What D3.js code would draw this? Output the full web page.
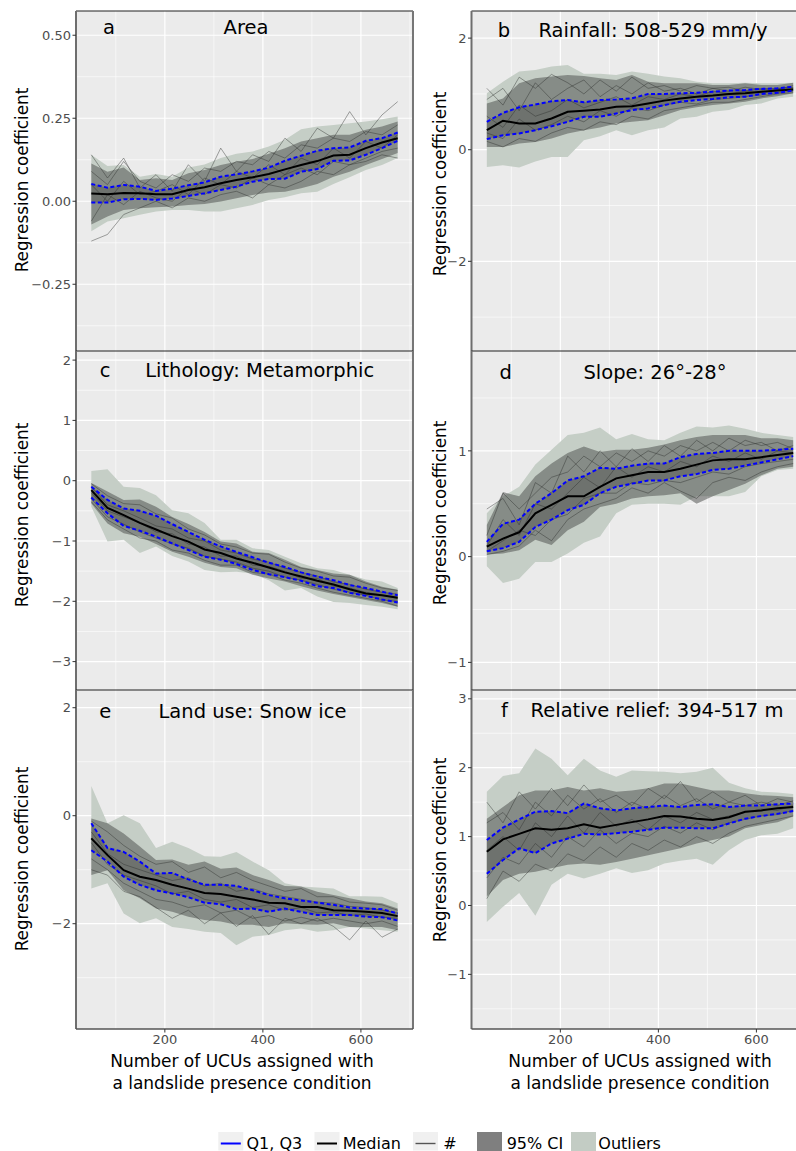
<!DOCTYPE html>
<html>
<head>
<meta charset="utf-8">
<script src="https://cdn.jsdelivr.net/npm/d3@7"></script>
<style>
  body { margin: 0; background: #fff; }
  svg { display: block; }
  text { font-family: "DejaVu Sans", sans-serif; }
</style>
</head>
<body>
<svg id="chart" width="796" height="1151"></svg>
<script>
// Number of UCUs assigned with a landslide presence condition (shared x values)
const xValues = [50, 83, 116, 149, 182, 215, 248, 281, 314, 346, 379, 412, 445, 478, 511, 544, 577, 610, 643, 675];
const xMajorTicks = [200, 400, 600];
const xMinorTicks = [100, 300, 500, 700];

// a — Area
const aMedian = [0.023, 0.021, 0.025, 0.024, 0.021, 0.021, 0.034, 0.042, 0.054, 0.064, 0.072, 0.082, 0.096, 0.109, 0.121, 0.138, 0.140, 0.160, 0.177, 0.190];
const aQ3 = [0.052, 0.041, 0.049, 0.044, 0.031, 0.038, 0.048, 0.057, 0.074, 0.081, 0.090, 0.101, 0.122, 0.137, 0.152, 0.160, 0.162, 0.182, 0.190, 0.207];
const aQ1 = [-0.004, -0.004, 0.006, 0.007, 0.004, 0.008, 0.016, 0.024, 0.034, 0.044, 0.059, 0.067, 0.068, 0.089, 0.097, 0.122, 0.123, 0.140, 0.160, 0.182];
const aCiHi = [0.114, 0.089, 0.102, 0.064, 0.069, 0.064, 0.084, 0.094, 0.109, 0.119, 0.127, 0.143, 0.160, 0.180, 0.190, 0.200, 0.200, 0.215, 0.225, 0.240];
const aCiLo = [-0.070, -0.046, -0.026, -0.021, -0.018, -0.016, -0.011, -0.008, -0.001, 0.009, 0.019, 0.026, 0.029, 0.039, 0.052, 0.074, 0.089, 0.109, 0.127, 0.145];
const aOutHi = [0.140, 0.106, 0.109, 0.074, 0.082, 0.074, 0.102, 0.111, 0.130, 0.143, 0.150, 0.165, 0.185, 0.217, 0.225, 0.230, 0.235, 0.240, 0.247, 0.255];
const aOutLo = [-0.090, -0.061, -0.051, -0.041, -0.031, -0.026, -0.026, -0.031, -0.031, -0.021, -0.011, 0.004, 0.012, 0.024, 0.029, 0.052, 0.072, 0.094, 0.109, 0.130];
const aRuns = [
  [0.14, 0.07, 0.13, 0.04, 0.08, 0.03, 0.11, 0.06, 0.16, 0.09, 0.14, 0.12, 0.19, 0.15, 0.22, 0.19, 0.27, 0.20, 0.26, 0.30],
  [-0.12, -0.10, -0.04, -0.02, 0.00, -0.02, 0.01, 0.00, 0.02, 0.03, 0.01, 0.05, 0.04, 0.06, 0.09, 0.08, 0.11, 0.12, 0.14, 0.13],
  [0.05, 0.00, 0.06, 0.02, 0.03, 0.05, 0.02, 0.07, 0.05, 0.09, 0.07, 0.11, 0.08, 0.13, 0.11, 0.16, 0.13, 0.18, 0.16, 0.20],
  [0.09, 0.05, 0.12, 0.06, 0.04, 0.08, 0.06, 0.10, 0.09, 0.12, 0.11, 0.15, 0.13, 0.17, 0.16, 0.19, 0.18, 0.21, 0.20, 0.23],
  [-0.06, 0.02, -0.01, 0.03, 0.01, 0.00, 0.04, 0.02, 0.05, 0.04, 0.07, 0.05, 0.08, 0.10, 0.08, 0.12, 0.11, 0.13, 0.15, 0.16]
];
const aTicks = [-0.25, 0, 0.25, 0.5];
const aMinor = [-0.375, -0.125, 0.125, 0.375];

// b — Rainfall: 508-529 mm/y
const bMedian = [0.35, 0.52, 0.47, 0.47, 0.56, 0.68, 0.70, 0.72, 0.77, 0.78, 0.83, 0.88, 0.92, 0.95, 0.97, 1.00, 1.01, 1.04, 1.06, 1.08];
const bQ3 = [0.50, 0.66, 0.76, 0.81, 0.87, 0.89, 0.85, 0.89, 0.90, 0.92, 1.00, 1.00, 1.01, 1.02, 1.04, 1.06, 1.07, 1.09, 1.10, 1.13];
const bQ1 = [0.19, 0.26, 0.29, 0.35, 0.42, 0.50, 0.59, 0.59, 0.65, 0.71, 0.74, 0.80, 0.86, 0.89, 0.91, 0.94, 0.95, 1.00, 1.02, 1.06];
const bCiHi = [0.83, 0.92, 1.19, 1.28, 1.31, 1.34, 1.32, 1.28, 1.25, 1.34, 1.22, 1.19, 1.19, 1.19, 1.16, 1.16, 1.19, 1.16, 1.16, 1.20];
const bCiLo = [0.05, 0.05, 0.11, 0.14, 0.20, 0.29, 0.35, 0.40, 0.47, 0.50, 0.53, 0.62, 0.71, 0.76, 0.80, 0.83, 0.86, 0.92, 0.96, 1.01];
const bOutHi = [1.01, 1.22, 1.40, 1.43, 1.49, 1.52, 1.36, 1.36, 1.34, 1.40, 1.36, 1.31, 1.28, 1.22, 1.19, 1.19, 1.20, 1.19, 1.19, 1.20];
const bOutLo = [-0.31, -0.28, -0.32, -0.21, -0.13, -0.13, 0.17, 0.24, 0.35, 0.26, 0.35, 0.40, 0.56, 0.59, 0.68, 0.71, 0.80, 0.83, 0.92, 0.95];
const bRuns = [
  [1.10, 0.80, 1.30, 1.10, 1.35, 1.20, 1.00, 1.25, 1.05, 1.30, 1.10, 1.15, 1.05, 1.15, 1.10, 1.12, 1.05, 1.10, 1.08, 1.15],
  [0.15, 0.05, 0.20, 0.15, 0.30, 0.40, 0.35, 0.50, 0.45, 0.60, 0.55, 0.70, 0.75, 0.80, 0.85, 0.85, 0.90, 0.95, 1.00, 1.02],
  [0.60, 0.40, 0.80, 0.60, 0.70, 0.90, 0.75, 0.85, 0.95, 0.80, 0.95, 0.90, 1.00, 0.95, 1.05, 1.00, 1.05, 1.02, 1.08, 1.10],
  [0.90, 1.10, 0.70, 1.20, 0.90, 1.10, 1.25, 0.95, 1.15, 1.00, 1.20, 1.05, 1.10, 1.00, 1.10, 1.05, 1.12, 1.08, 1.10, 1.12],
  [0.30, 0.20, 0.55, 0.35, 0.45, 0.60, 0.50, 0.70, 0.60, 0.75, 0.70, 0.80, 0.85, 0.82, 0.90, 0.92, 0.95, 0.98, 1.02, 1.05]
];
const bTicks = [-2, 0, 2];
const bMinor = [-3, -1, 1];

// c — Lithology: Metamorphic
const cMedian = [-0.155, -0.45, -0.57, -0.70, -0.81, -0.92, -1.01, -1.14, -1.20, -1.29, -1.36, -1.44, -1.52, -1.59, -1.66, -1.72, -1.80, -1.87, -1.90, -1.94];
const cQ3 = [-0.10, -0.32, -0.46, -0.50, -0.58, -0.72, -0.85, -0.98, -1.09, -1.18, -1.27, -1.36, -1.43, -1.52, -1.59, -1.65, -1.73, -1.78, -1.84, -1.90];
const cQ1 = [-0.28, -0.54, -0.75, -0.83, -0.93, -1.04, -1.15, -1.26, -1.31, -1.38, -1.48, -1.55, -1.60, -1.66, -1.75, -1.78, -1.86, -1.91, -1.97, -2.02];
const cCiHi = [-0.04, -0.18, -0.32, -0.31, -0.43, -0.60, -0.72, -0.85, -1.01, -1.04, -1.18, -1.20, -1.31, -1.43, -1.48, -1.54, -1.56, -1.67, -1.76, -1.81];
const cCiLo = [-0.38, -0.71, -0.87, -0.93, -1.05, -1.18, -1.26, -1.36, -1.43, -1.45, -1.56, -1.62, -1.67, -1.75, -1.82, -1.88, -1.93, -1.98, -2.03, -2.09];
const cOutHi = [0.16, 0.19, -0.10, -0.12, -0.24, -0.49, -0.54, -0.70, -0.98, -0.98, -1.12, -1.15, -1.26, -1.37, -1.45, -1.48, -1.56, -1.64, -1.67, -1.78];
const cOutLo = [-0.43, -1.01, -0.98, -1.20, -1.09, -1.25, -1.34, -1.48, -1.52, -1.51, -1.54, -1.65, -1.82, -1.78, -1.92, -2.01, -2.03, -2.06, -2.09, -2.13];
const cRuns = [
  [-0.05, -0.25, -0.38, -0.40, -0.55, -0.62, -0.80, -0.90, -1.05, -1.10, -1.20, -1.22, -1.35, -1.45, -1.50, -1.58, -1.60, -1.70, -1.78, -1.82],
  [-0.35, -0.65, -0.80, -0.95, -1.00, -1.15, -1.20, -1.32, -1.40, -1.40, -1.52, -1.55, -1.65, -1.70, -1.78, -1.85, -1.90, -1.95, -2.00, -2.08],
  [-0.20, -0.50, -0.60, -0.70, -0.85, -0.88, -1.05, -1.10, -1.25, -1.25, -1.40, -1.42, -1.50, -1.62, -1.62, -1.75, -1.78, -1.85, -1.90, -1.95],
  [-0.10, -0.40, -0.50, -0.62, -0.75, -0.80, -0.95, -1.00, -1.15, -1.20, -1.30, -1.35, -1.45, -1.52, -1.58, -1.68, -1.72, -1.80, -1.85, -1.88],
  [-0.30, -0.60, -0.72, -0.85, -0.95, -1.05, -1.12, -1.25, -1.30, -1.35, -1.45, -1.50, -1.60, -1.65, -1.72, -1.80, -1.85, -1.90, -1.98, -2.00]
];
const cTicks = [-3, -2, -1, 0, 1, 2];
const cMinor = [-3.5, -2.5, -1.5, -0.5, 0.5, 1.5];

// d — Slope: 26°-28°
const dMedian = [0.095, 0.17, 0.23, 0.41, 0.49, 0.57, 0.57, 0.66, 0.74, 0.77, 0.80, 0.80, 0.83, 0.87, 0.91, 0.92, 0.92, 0.94, 0.96, 0.98];
const dQ3 = [0.14, 0.31, 0.35, 0.50, 0.60, 0.72, 0.76, 0.84, 0.83, 0.86, 0.88, 0.88, 0.94, 0.97, 0.98, 1.00, 1.00, 1.00, 1.01, 1.02];
const dQ1 = [0.05, 0.08, 0.14, 0.28, 0.35, 0.44, 0.49, 0.60, 0.66, 0.69, 0.72, 0.72, 0.76, 0.78, 0.82, 0.83, 0.86, 0.89, 0.92, 0.95];
const dCiHi = [0.30, 0.61, 0.57, 0.76, 0.88, 0.98, 1.04, 0.99, 1.01, 1.01, 1.03, 1.06, 1.10, 1.13, 1.15, 1.15, 1.15, 1.12, 1.12, 1.10];
const dCiLo = [0.02, 0.03, 0.06, 0.16, 0.11, 0.25, 0.33, 0.47, 0.50, 0.55, 0.57, 0.58, 0.60, 0.50, 0.57, 0.63, 0.69, 0.77, 0.83, 0.85];
const dOutHi = [0.41, 0.57, 0.66, 0.87, 1.01, 1.15, 1.17, 1.22, 1.11, 1.16, 1.11, 1.10, 1.17, 1.23, 1.22, 1.24, 1.21, 1.17, 1.15, 1.13];
const dOutLo = [-0.09, -0.25, -0.21, -0.05, -0.05, 0.03, 0.13, 0.19, 0.41, 0.49, 0.50, 0.50, 0.49, 0.57, 0.57, 0.57, 0.61, 0.76, 0.82, 0.83];
const dRuns = [
  [0.45, 0.55, 0.30, 0.70, 0.60, 0.95, 0.80, 1.00, 0.85, 1.02, 0.90, 1.05, 0.95, 1.10, 1.00, 1.12, 1.05, 1.08, 1.00, 1.05],
  [0.02, 0.05, 0.10, 0.25, 0.15, 0.35, 0.45, 0.50, 0.55, 0.65, 0.60, 0.70, 0.62, 0.55, 0.70, 0.75, 0.72, 0.80, 0.85, 0.88],
  [0.10, 0.35, 0.20, 0.50, 0.45, 0.60, 0.75, 0.65, 0.85, 0.75, 0.85, 0.80, 0.90, 0.85, 0.95, 0.90, 0.98, 0.92, 1.00, 0.98],
  [0.20, 0.60, 0.45, 0.60, 0.75, 0.80, 0.95, 0.85, 0.98, 0.90, 1.00, 0.95, 1.05, 1.00, 1.08, 1.00, 1.10, 1.05, 1.08, 1.02],
  [0.05, 0.15, 0.25, 0.20, 0.35, 0.40, 0.55, 0.60, 0.60, 0.70, 0.68, 0.72, 0.70, 0.75, 0.80, 0.78, 0.85, 0.88, 0.90, 0.92]
];
const dTicks = [-1, 0, 1];
const dMinor = [-0.5, 0.5, 1.5];

// e — Land use: Snow ice
const eMedian = [-0.42, -0.73, -1.01, -1.13, -1.19, -1.28, -1.35, -1.43, -1.45, -1.50, -1.55, -1.61, -1.62, -1.69, -1.69, -1.75, -1.76, -1.78, -1.80, -1.86];
const eQ3 = [-0.14, -0.60, -0.67, -0.85, -1.07, -1.06, -1.18, -1.28, -1.28, -1.30, -1.38, -1.47, -1.53, -1.57, -1.61, -1.65, -1.70, -1.72, -1.73, -1.81];
const eQ1 = [-0.64, -0.85, -1.13, -1.28, -1.38, -1.44, -1.51, -1.61, -1.64, -1.73, -1.72, -1.78, -1.72, -1.78, -1.84, -1.84, -1.84, -1.87, -1.88, -1.94];
const eCiHi = [-0.05, -0.14, -0.33, -0.57, -0.82, -0.81, -0.91, -0.85, -0.98, -0.96, -1.10, -1.19, -1.30, -1.31, -1.41, -1.47, -1.53, -1.59, -1.62, -1.72];
const eCiLo = [-1.10, -1.01, -1.38, -1.53, -1.72, -1.78, -1.87, -1.93, -1.96, -2.02, -2.02, -2.06, -1.99, -2.01, -2.02, -1.99, -2.06, -2.06, -2.06, -2.12];
const eOutHi = [0.55, -0.14, 0.01, -0.14, -0.60, -0.48, -0.60, -0.75, -0.76, -0.67, -0.85, -1.01, -1.25, -1.31, -1.33, -1.35, -1.49, -1.49, -1.50, -1.62];
const eOutLo = [-1.35, -1.25, -1.81, -1.99, -1.90, -2.06, -2.10, -2.15, -2.17, -2.40, -2.24, -2.21, -2.12, -2.09, -2.15, -2.12, -2.06, -2.09, -2.12, -2.15];
const eRuns = [
  [-0.10, -0.30, -0.55, -0.75, -0.90, -0.85, -1.05, -0.95, -1.15, -1.05, -1.20, -1.30, -1.40, -1.35, -1.50, -1.50, -1.60, -1.62, -1.65, -1.75],
  [-1.00, -1.10, -1.40, -1.50, -1.70, -1.90, -1.75, -2.00, -1.80, -2.05, -1.85, -2.20, -1.90, -2.00, -1.90, -2.05, -2.30, -1.95, -2.25, -2.10],
  [-0.50, -0.90, -1.10, -1.20, -1.30, -1.45, -1.40, -1.55, -1.60, -1.55, -1.70, -1.65, -1.75, -1.70, -1.80, -1.78, -1.85, -1.82, -1.88, -1.90],
  [-0.30, -0.70, -0.90, -1.00, -1.10, -1.20, -1.15, -1.30, -1.25, -1.40, -1.35, -1.45, -1.50, -1.55, -1.60, -1.62, -1.68, -1.70, -1.75, -1.80],
  [-0.80, -1.00, -1.25, -1.40, -1.55, -1.60, -1.70, -1.65, -1.80, -1.75, -1.90, -1.85, -1.95, -1.88, -1.95, -1.90, -1.95, -2.00, -1.95, -2.05]
];
const eTicks = [-2, 0, 2];
const eMinor = [-3, -1, 1];

// f — Relative relief: 394-517 m
const fMedian = [0.78, 0.96, 1.04, 1.12, 1.10, 1.12, 1.18, 1.13, 1.17, 1.21, 1.25, 1.30, 1.29, 1.26, 1.24, 1.28, 1.36, 1.38, 1.41, 1.43];
const fQ3 = [0.95, 1.13, 1.25, 1.36, 1.37, 1.34, 1.48, 1.41, 1.38, 1.41, 1.43, 1.45, 1.43, 1.46, 1.47, 1.43, 1.45, 1.45, 1.47, 1.48];
const fQ1 = [0.46, 0.66, 0.83, 0.76, 0.90, 0.97, 1.04, 1.03, 1.05, 1.07, 1.10, 1.13, 1.13, 1.12, 1.12, 1.19, 1.26, 1.30, 1.33, 1.37];
const fCiHi = [1.26, 1.43, 1.60, 1.67, 1.67, 1.72, 1.67, 1.70, 1.65, 1.67, 1.70, 1.77, 1.77, 1.72, 1.67, 1.67, 1.63, 1.60, 1.59, 1.57];
const fCiLo = [0.13, 0.37, 0.46, 0.49, 0.54, 0.59, 0.61, 0.59, 0.63, 0.68, 0.73, 0.78, 0.83, 0.90, 0.95, 1.00, 1.12, 1.17, 1.21, 1.29];
const fOutHi = [1.65, 1.88, 1.92, 2.28, 2.13, 1.89, 2.13, 1.96, 1.87, 1.96, 1.95, 1.94, 1.92, 1.94, 2.00, 1.78, 1.70, 1.65, 1.64, 1.62];
const fOutLo = [-0.24, -0.02, 0.18, -0.15, 0.30, 0.46, 0.39, 0.46, 0.54, 0.47, 0.51, 0.61, 0.65, 0.68, 0.59, 0.80, 0.95, 1.02, 1.04, 1.12];
const fRuns = [
  [1.50, 1.20, 1.65, 1.40, 1.70, 1.45, 1.75, 1.50, 1.60, 1.45, 1.70, 1.55, 1.80, 1.50, 1.65, 1.50, 1.60, 1.45, 1.55, 1.50],
  [0.10, 0.50, 0.35, 0.60, 0.50, 0.75, 0.65, 0.85, 0.70, 0.90, 0.80, 0.95, 0.85, 1.00, 0.90, 1.05, 1.15, 1.20, 1.25, 1.30],
  [0.80, 1.00, 0.80, 1.20, 1.00, 1.30, 1.05, 1.35, 1.15, 1.25, 1.10, 1.30, 1.20, 1.35, 1.25, 1.30, 1.35, 1.40, 1.38, 1.45],
  [1.20, 1.35, 1.10, 1.50, 1.30, 1.60, 1.40, 1.55, 1.35, 1.50, 1.40, 1.60, 1.45, 1.55, 1.40, 1.50, 1.45, 1.50, 1.45, 1.52],
  [0.40, 0.70, 0.60, 0.90, 0.70, 1.00, 0.85, 1.10, 0.90, 1.05, 1.00, 1.15, 1.05, 1.20, 1.10, 1.20, 1.25, 1.30, 1.32, 1.38]
];
const fTicks = [-1, 0, 1, 2, 3];
const fMinor = [-1.5, -0.5, 0.5, 1.5, 2.5];

// Legend entries
const legendLabels = ["Q1, Q3", "Median", "#", "95% CI", "Outliers"];

// ---------- layout ----------
const colLeft = [76, 471.5];
const panelW = 337;
const rowTop = [11, 351, 690];
const rowBottom = [351, 690, 1029];
const xDomain = [18.75, 706.25];

const panels = [
  { letter: "a", title: "Area", col: 0, row: 0, yDomain: [-0.451, 0.573], ticks: aTicks, minor: aMinor, fmt: d3.format(".2f"),
    letterX: 109, titleX: 246, titleY: 34.3, axisTitleY: 180,
    median: aMedian, q1: aQ1, q3: aQ3, ciLo: aCiLo, ciHi: aCiHi, outLo: aOutLo, outHi: aOutHi, runs: aRuns },
  { letter: "b", title: "Rainfall: 508-529 mm/y", col: 1, row: 0, yDomain: [-3.607, 2.486], ticks: bTicks, minor: bMinor, fmt: d3.format("d"),
    letterX: 504, titleX: 653, titleY: 36.7, axisTitleY: 184,
    median: bMedian, q1: bQ1, q3: bQ3, ciLo: bCiLo, ciHi: bCiHi, outLo: bOutLo, outHi: bOutHi, runs: bRuns },
  { letter: "c", title: "Lithology: Metamorphic", col: 0, row: 1, yDomain: [-3.471, 2.151], ticks: cTicks, minor: cMinor, fmt: d3.format("d"),
    letterX: 105, titleX: 259.7, titleY: 376.7, axisTitleY: 515,
    median: cMedian, q1: cQ1, q3: cQ3, ciLo: cCiLo, ciHi: cCiHi, outLo: cOutLo, outHi: cOutHi, runs: cRuns },
  { letter: "d", title: "Slope: 26°-28°", col: 1, row: 1, yDomain: [-1.261, 1.944], ticks: dTicks, minor: dMinor, fmt: d3.format("d"),
    letterX: 505.8, titleX: 655, titleY: 379.3, axisTitleY: 513,
    median: dMedian, q1: dQ1, q3: dQ3, ciLo: dCiLo, ciHi: dCiHi, outLo: dOutLo, outHi: dOutHi, runs: dRuns },
  { letter: "e", title: "Land use: Snow ice", col: 0, row: 2, yDomain: [-3.950, 2.328], ticks: eTicks, minor: eMinor, fmt: d3.format("d"),
    letterX: 105.3, titleX: 252.5, titleY: 718.3, axisTitleY: 859,
    median: eMedian, q1: eQ1, q3: eQ3, ciLo: eCiLo, ciHi: eCiHi, outLo: eOutLo, outHi: eOutHi, runs: eRuns },
  { letter: "f", title: "Relative relief: 394-517 m", col: 1, row: 2, yDomain: [-1.793, 3.128], ticks: fTicks, minor: fMinor, fmt: d3.format("d"),
    letterX: 504.5, titleX: 657, titleY: 716.7, axisTitleY: 850,
    median: fMedian, q1: fQ1, q3: fQ3, ciLo: fCiLo, ciHi: fCiHi, outLo: fOutLo, outHi: fOutHi, runs: fRuns }
];

const COLORS = {
  panel: "#ebebeb", grid: "#ffffff", outlier: "#c5cec6", ci: "#474a47",
  run: "#2e302e", median: "#000000", quart: "#0000ff", tickText: "#4d4d4d"
};

const svg = d3.select("#chart");
svg.append("rect").attr("width", 796).attr("height", 1151).attr("fill", "#fff");
const defs = svg.append("defs");

panels.forEach((p, i) => {
  const x0 = colLeft[p.col], x1 = x0 + panelW;
  const y0 = rowTop[p.row], y1 = rowBottom[p.row];
  const x = d3.scaleLinear().domain(xDomain).range([x0, x1]);
  const y = d3.scaleLinear().domain(p.yDomain).range([y1, y0]);

  defs.append("clipPath").attr("id", "clip" + i)
    .append("rect").attr("x", x0).attr("y", y0).attr("width", panelW).attr("height", y1 - y0);

  const g = svg.append("g").attr("clip-path", `url(#clip${i})`);
  g.append("rect").attr("x", x0).attr("y", y0).attr("width", panelW).attr("height", y1 - y0).attr("fill", COLORS.panel);

  // grid
  g.selectAll(null).data(p.minor).join("line")
    .attr("x1", x0).attr("x2", x1).attr("y1", d => y(d)).attr("y2", d => y(d))
    .attr("stroke", COLORS.grid).attr("stroke-width", 0.6);
  g.selectAll(null).data(xMinorTicks).join("line")
    .attr("x1", d => x(d)).attr("x2", d => x(d)).attr("y1", y0).attr("y2", y1)
    .attr("stroke", COLORS.grid).attr("stroke-width", 0.6);
  g.selectAll(null).data(p.ticks).join("line")
    .attr("x1", x0).attr("x2", x1).attr("y1", d => y(d)).attr("y2", d => y(d))
    .attr("stroke", COLORS.grid).attr("stroke-width", 1.2);
  g.selectAll(null).data(xMajorTicks).join("line")
    .attr("x1", d => x(d)).attr("x2", d => x(d)).attr("y1", y0).attr("y2", y1)
    .attr("stroke", COLORS.grid).attr("stroke-width", 1.2);

  const idx = d3.range(xValues.length);
  const band = (lo, hi) => d3.area().x(k => x(xValues[k])).y0(k => y(lo[k])).y1(k => y(hi[k]))(idx);
  const path = arr => d3.line().x((d, k) => x(xValues[k])).y(d => y(d))(arr);

  // outlier envelope
  g.append("path").attr("d", band(p.outLo, p.outHi)).attr("fill", COLORS.outlier);
  // 95% CI of the runs, darker toward the inter-quartile core
  g.append("path").attr("d", band(p.ciLo, p.ciHi)).attr("fill", COLORS.ci).attr("fill-opacity", 0.5);
  g.append("path").attr("d", band(p.q1, p.q3)).attr("fill", COLORS.ci).attr("fill-opacity", 0.38);
  // individual runs
  p.runs.forEach(r => {
    g.append("path").attr("d", path(r)).attr("fill", "none")
      .attr("stroke", COLORS.run).attr("stroke-width", 0.8).attr("stroke-opacity", 0.55);
  });
  // median and quartiles
  g.append("path").attr("d", path(p.median)).attr("fill", "none")
    .attr("stroke", COLORS.median).attr("stroke-width", 2);
  [p.q1, p.q3].forEach(q => {
    g.append("path").attr("d", path(q)).attr("fill", "none")
      .attr("stroke", COLORS.quart).attr("stroke-width", 2).attr("stroke-dasharray", "4,2.5");
  });

  // panel labels
  g.append("text").attr("x", p.letterX).attr("y", p.titleY).attr("text-anchor", "middle")
    .attr("font-size", 19.5).attr("fill", "#000").text(p.letter);
  g.append("text").attr("x", p.titleX).attr("y", p.titleY).attr("text-anchor", "middle")
    .attr("font-size", 19.5).attr("fill", "#000").text(p.title);

  // frame
  svg.append("line").attr("x1", x0).attr("x2", x1).attr("y1", y0).attr("y2", y0)
    .attr("stroke", "#222").attr("stroke-width", 1.2);
  svg.append("line").attr("x1", x0).attr("x2", x0).attr("y1", y0).attr("y2", y1)
    .attr("stroke", "#6e6e6e").attr("stroke-width", 2);
  if (p.col === 0) {
    svg.append("line").attr("x1", x1).attr("x2", x1).attr("y1", y0).attr("y2", y1)
      .attr("stroke", "#767676").attr("stroke-width", 2);
  }

  // y axis
  const ya = svg.append("g");
  ya.selectAll(null).data(p.ticks.filter(t => y(t) >= y0 && y(t) <= y1)).join("line")
    .attr("x1", x0 - 3.5).attr("x2", x0).attr("y1", d => y(d)).attr("y2", d => y(d))
    .attr("stroke", "#333").attr("stroke-width", 1);
  ya.selectAll(null).data(p.ticks.filter(t => y(t) >= y0 - 2 && y(t) <= y1)).join("text")
    .attr("x", x0 - 5).attr("y", d => y(d)).attr("dy", "0.36em").attr("text-anchor", "end")
    .attr("font-size", 13).attr("fill", COLORS.tickText).text(d => p.fmt(d));
  svg.append("text")
    .attr("transform", `translate(${p.col === 0 ? 22 : 440},${p.axisTitleY}) rotate(-90)`)
    .attr("text-anchor", "middle").attr("dy", "0.35em")
    .attr("font-size", 16.8).attr("fill", "#000").text("Regression coefficient");

  // x axis on bottom row
  if (p.row === 2) {
    svg.append("line").attr("x1", x0).attr("x2", x1).attr("y1", y1).attr("y2", y1)
      .attr("stroke", "#555").attr("stroke-width", 1.5);
    svg.selectAll(null).data(xMajorTicks).join("line")
      .attr("x1", d => x(d)).attr("x2", d => x(d)).attr("y1", y1).attr("y2", y1 + 3.5)
      .attr("stroke", "#333").attr("stroke-width", 1);
    const xl = svg.append("g");
    xl.selectAll(null).data(xMajorTicks).join("text")
      .attr("x", d => x(d)).attr("y", 1044).attr("text-anchor", "middle")
      .attr("font-size", 13).attr("fill", COLORS.tickText).text(d => d);
    const cx = p.col === 0 ? 242 : 640;
    svg.append("text").attr("x", cx).attr("y", 1067).attr("text-anchor", "middle")
      .attr("font-size", 17).attr("fill", "#000").text("Number of UCUs assigned with");
    svg.append("text").attr("x", cx).attr("y", 1089).attr("text-anchor", "middle")
      .attr("font-size", 17).attr("fill", "#000").text("a landslide presence condition");
  }
});

// ---------- legend ----------
const lg = svg.append("g");
const keyY = 1132, keyH = 18.5, keyW = 25;
const textY = 1148.5;
const keys = [
  { x: 218.3, type: "line", color: COLORS.quart, width: 2, tx: 246.5 },
  { x: 314.5, type: "line", color: COLORS.median, width: 2, tx: 342.7 },
  { x: 413, type: "line", color: "#555", width: 1.4, tx: 443.3 },
  { x: 477, type: "fill", color: "#7f7f7f", tx: 506.7 },
  { x: 571, type: "fill", color: "#c3ccc4", tx: 598.3 }
];
keys.forEach((k, i) => {
  if (k.type === "line") {
    lg.append("rect").attr("x", k.x).attr("y", keyY).attr("width", keyW).attr("height", keyH).attr("fill", "#f0f0f0");
    lg.append("line").attr("x1", k.x + 2.5).attr("x2", k.x + keyW - 2.5)
      .attr("y1", keyY + 11.5).attr("y2", keyY + 11.5)
      .attr("stroke", k.color).attr("stroke-width", k.width);
  } else {
    lg.append("rect").attr("x", k.x).attr("y", keyY).attr("width", keyW).attr("height", 1151 - keyY).attr("fill", k.color);
  }
  lg.append("text").attr("x", k.tx).attr("y", textY).attr("font-size", 16)
    .attr("fill", "#000").text(legendLabels[i]);
});
</script>
</body>
</html>
